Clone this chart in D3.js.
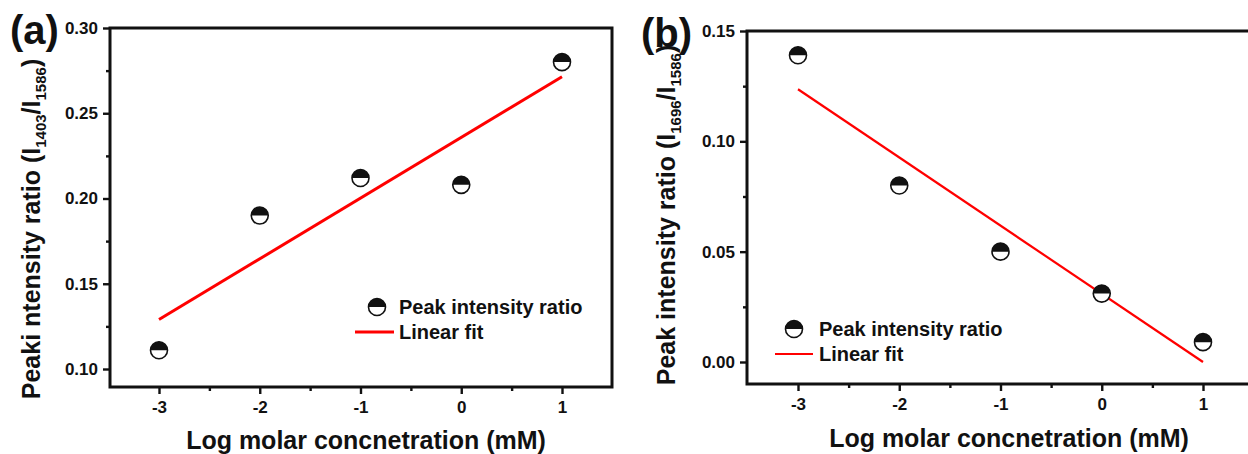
<!DOCTYPE html>
<html>
<head>
<meta charset="utf-8">
<script src="https://cdn.jsdelivr.net/npm/d3@7"></script>
<style>
  html, body { margin: 0; padding: 0; background: #fff; }
  svg { display: block; }
  text { font-family: "Liberation Sans", Arial, sans-serif; font-weight: bold; fill: #111; }
</style>
</head>
<body>
<svg id="chart" width="1248" height="454"></svg>
<script>
// Log molar concentration (mM)
const concentrations = [-3, -2, -1, 0, 1];

// Panel (a): I1403 / I1586
const ratioA = [0.111, 0.190, 0.212, 0.208, 0.280];
// Panel (b): I1696 / I1586
const ratioB = [0.139, 0.080, 0.050, 0.031, 0.009];

const xTicks = [-3, -2, -1, 0, 1];
const xMinorTicks = [-2.5, -1.5, -0.5, 0.5];
const yTicksA = [0.10, 0.15, 0.20, 0.25, 0.30];
const yMinorTicksA = [0.125, 0.175, 0.225, 0.275];
const yTicksB = [0.00, 0.05, 0.10, 0.15];
const yMinorTicksB = [0.025, 0.075, 0.125];

const legendLabels = ["Peak intensity ratio", "Linear fit"];
const xTitle = "Log molar concnetration (mM)";

const svg = d3.select("#chart");

// least-squares straight line through the points
function linearFit(xs, ys) {
  const mx = d3.mean(xs), my = d3.mean(ys);
  let sxy = 0, sxx = 0;
  xs.forEach((x, i) => { sxy += (x - mx) * (ys[i] - my); sxx += (x - mx) * (x - mx); });
  const slope = sxy / sxx;
  return x => my + slope * (x - mx);
}

function halfMarker(g, cx, cy, r) {
  g.append("circle").attr("cx", cx).attr("cy", cy).attr("r", r)
    .attr("fill", "#fff").attr("stroke", "#111").attr("stroke-width", 1.6);
  g.append("path")
    .attr("d", `M${cx - r},${cy} A${r},${r} 0 0 1 ${cx + r},${cy} Z`)
    .attr("fill", "#111");
}

function drawPanel(cfg) {
  const g = svg.append("g");
  const x = d3.scaleLinear().domain([-3, 1]).range(cfg.xRange);
  const y = d3.scaleLinear().domain(cfg.yDom).range(cfg.yRange);
  const { left, right, top, bottom } = cfg.frame;

  // minor ticks
  const minorX = d3.axisBottom(x).tickValues(xMinorTicks).tickSize(4).tickFormat("");
  const minorY = d3.axisLeft(y).tickValues(cfg.yMinor).tickSize(4).tickFormat("");
  // major ticks (plain hyphen for negatives)
  const majorX = d3.axisBottom(x).tickValues(xTicks).tickSize(7).tickPadding(7).tickFormat(d => String(d));
  const majorY = d3.axisLeft(y).tickValues(cfg.yTicks).tickSize(7).tickPadding(5).tickFormat(d3.format(".2f"));

  [minorX, majorX].forEach(a => {
    const ag = g.append("g").attr("transform", `translate(0,${bottom})`).call(a);
    ag.select(".domain").remove();
    ag.selectAll("line").attr("stroke", "#111").attr("stroke-width", 2.4);
    ag.selectAll("text").style("font-size", "17px").attr("fill", "#111");
  });
  [minorY, majorY].forEach(a => {
    const ag = g.append("g").attr("transform", `translate(${left},0)`).call(a);
    ag.select(".domain").remove();
    ag.selectAll("line").attr("stroke", "#111").attr("stroke-width", 2.4);
    ag.selectAll("text").style("font-size", "17px").attr("fill", "#111");
  });

  // frame
  g.append("rect")
    .attr("x", left).attr("y", top)
    .attr("width", right - left).attr("height", bottom - top)
    .attr("fill", "none").attr("stroke", "#111").attr("stroke-width", 3);

  // fit line
  const fit = linearFit(concentrations, cfg.values);
  const xs = [d3.min(concentrations), d3.max(concentrations)];
  g.append("line")
    .attr("x1", x(xs[0])).attr("y1", y(fit(xs[0])))
    .attr("x2", x(xs[1])).attr("y2", y(fit(xs[1])))
    .attr("stroke", "#ff0000").attr("stroke-width", cfg.fitWidth);

  // points
  concentrations.forEach((c, i) => halfMarker(g, x(c), y(cfg.values[i]), 8.5));

  // legend
  const lg = g.append("g");
  halfMarker(lg, cfg.legend.mx, cfg.legend.my, 8.5);
  lg.append("text").attr("x", cfg.legend.tx).attr("y", cfg.legend.my + 7)
    .style("font-size", "20px").text(legendLabels[0]);
  lg.append("line")
    .attr("x1", cfg.legend.lx1).attr("x2", cfg.legend.lx2)
    .attr("y1", cfg.legend.ly).attr("y2", cfg.legend.ly)
    .attr("stroke", "#ff0000").attr("stroke-width", cfg.fitWidth);
  lg.append("text").attr("x", cfg.legend.tx).attr("y", cfg.legend.ly + 7)
    .style("font-size", "20px").text(legendLabels[1]);

  // x title
  g.append("text").attr("x", cfg.xTitle.x).attr("y", cfg.xTitle.y)
    .attr("text-anchor", "middle").style("font-size", "25px").text(xTitle);

  // y title with subscripts
  const yt = g.append("text")
    .attr("transform", `translate(${cfg.yTitle.x},${cfg.yTitle.y}) rotate(-90)`)
    .attr("text-anchor", "middle").style("font-size", "25px");
  yt.append("tspan").text(cfg.yTitle.lead + "(I");
  yt.append("tspan").attr("dy", 6).style("font-size", "15px").text(cfg.yTitle.sub1);
  yt.append("tspan").attr("dy", -6).text("/I");
  yt.append("tspan").attr("dy", 6).style("font-size", "15px").text("1586");
  yt.append("tspan").attr("dy", -6).text(")");

  // panel letter
  g.append("text").attr("x", cfg.letter.x).attr("y", cfg.letter.y)
    .style("font-size", "40px").text(cfg.letter.t);
}

drawPanel({
  values: ratioA,
  xRange: [159, 562],
  yDom: [0.10, 0.30], yRange: [369, 28],
  yTicks: yTicksA, yMinor: yMinorTicksA,
  frame: { left: 110, right: 612, top: 28, bottom: 387 },
  fitWidth: 3,
  legend: { mx: 377, my: 307, tx: 399, lx1: 355, lx2: 394, ly: 332 },
  xTitle: { x: 366, y: 449 },
  yTitle: { x: 40, y: 229, lead: "Peaki ntensity ratio ", sub1: "1403" },
  letter: { x: 10, y: 44, t: "(a)" }
});

drawPanel({
  values: ratioB,
  xRange: [798, 1203],
  yDom: [0.00, 0.15], yRange: [362, 31],
  yTicks: yTicksB, yMinor: yMinorTicksB,
  frame: { left: 747, right: 1256, top: 31, bottom: 384 },
  fitWidth: 2.2,
  legend: { mx: 794, my: 329, tx: 819, lx1: 775, lx2: 813, ly: 354 },
  xTitle: { x: 1009, y: 447 },
  yTitle: { x: 675, y: 215, lead: "Peak intensity ratio ", sub1: "1696" },
  letter: { x: 641, y: 47, t: "(b)" }
});
</script>
</body>
</html>
